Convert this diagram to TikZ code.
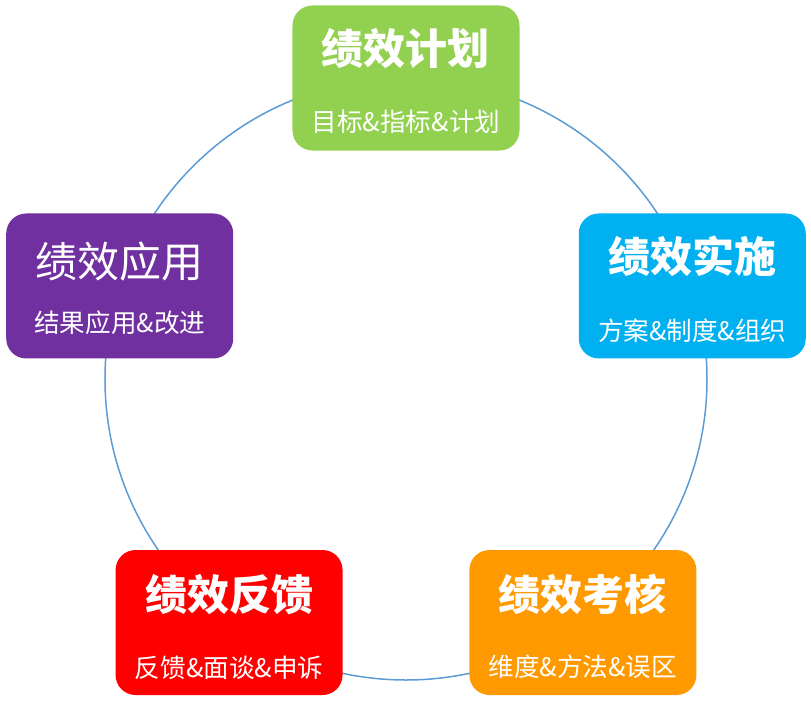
\documentclass[tikz,border=0pt]{standalone}
\usepackage{fontspec}
\newfontfamily\cjk{Noto Sans CJK SC}
\usetikzlibrary{positioning}
\definecolor{plangreen}{HTML}{92D050}
\definecolor{doblue}{HTML}{00B0F0}
\definecolor{checkorange}{HTML}{FF9900}
\definecolor{backred}{HTML}{FF0000}
\definecolor{usepurple}{HTML}{7030A0}
\definecolor{ringblue}{HTML}{5B9BD5}
\begin{document}
\begin{tikzpicture}[
    x=1pt, y=1pt,
    stagebox/.style={rectangle, rounded corners=20pt, minimum width=227pt, minimum height=145pt, inner sep=0pt},
    titletext/.style={text=white, inner sep=0pt, font=\cjk\bfseries\fontsize{42}{42}\selectfont},
    subtext/.style={text=white, inner sep=0pt, font=\cjk\fontsize{25.6}{26}\selectfont},
    ring/.style={draw=ringblue, line width=1.5pt}
]
    \useasboundingbox (-406,-323) rectangle (405,379);
    \draw[ring] (0,0) circle (301pt);

    \node[stagebox, fill=plangreen] (plan) at (90:301) {};
    \node[stagebox, fill=doblue] (do) at (18:301) {};
    \node[stagebox, fill=checkorange] (check) at (-54:301) {};
    \node[stagebox, fill=backred] (back) at (-126:301) {};
    \node[stagebox, fill=usepurple] (use) at (162:301) {};

    \node[titletext] (plantitle) at ([yshift=-43pt]plan.north) {绩效计划};
    \node[subtext] (plansub) at ([yshift=-116pt]plan.north) {目标\&指标\&计划};
    \node[titletext] (dotitle) at ([yshift=-43pt]do.north) {绩效实施};
    \node[subtext] (dosub) at ([yshift=-117pt]do.north) {方案\&制度\&组织};
    \node[titletext] (checktitle) at ([yshift=-45pt]check.north) {绩效考核};
    \node[subtext] (checksub) at ([yshift=-117pt]check.north) {维度\&方法\&误区};
    \node[titletext] (backtitle) at ([yshift=-45pt]back.north) {绩效反馈};
    \node[subtext] (backsub) at ([yshift=-118pt]back.north) {反馈\&面谈\&申诉};
    \node[titletext, font=\cjk\fontsize{42}{42}\selectfont] (usetitle) at ([yshift=-48pt]use.north) {绩效应用};
    \node[subtext] (usesub) at ([yshift=-109pt]use.north) {结果应用\&改进};
\end{tikzpicture}
\end{document}
